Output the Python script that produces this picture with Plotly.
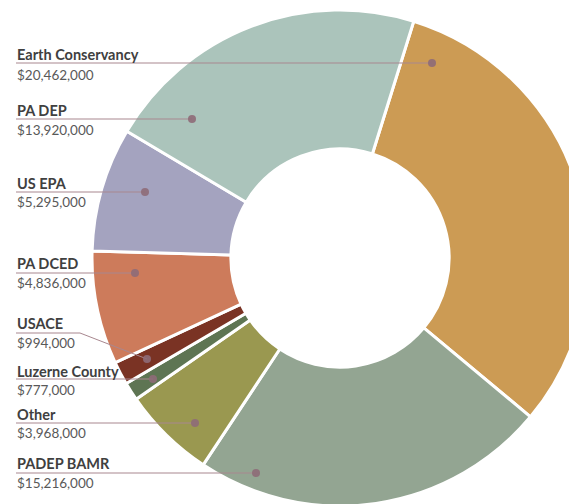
import plotly.graph_objects as go

# ---- data (clockwise order starting at the top-right) ----
categories = ["Earth Conservancy", "PADEP BAMR", "Other", "Luzerne County",
              "USACE", "PA DCED", "US EPA", "PA DEP"]
values = [20462000, 15216000, 3968000, 777000, 994000, 4836000, 5295000, 13920000]
value_labels = ["$20,462,000", "$15,216,000", "$3,968,000", "$777,000",
                "$994,000", "$4,836,000", "$5,295,000", "$13,920,000"]

# ---- styles ----
colors = ["#CC9B54", "#93A592", "#9A9850", "#5E7553",
          "#7A3324", "#CD7B5B", "#A4A3BF", "#ABC4BB"]

# ---- label layout (pixel positions in the window, top-left origin) ----
# per category: (name_y, line_y, value_y, dot_x, dot_y, elbow_x)
label_layout = {
    "Earth Conservancy": (54, 63, 75, 432, 63, None),
    "PA DEP": (110, 119, 130, 192, 119, None),
    "US EPA": (183, 192, 202, 145, 192, None),
    "PA DCED": (263, 273, 283, 135, 273, None),
    "USACE": (323, 333, 343, 147, 359, 80),
    "Luzerne County": (371, 379, 390, 153, 379, None),
    "Other": (414, 423, 433, 195, 423, None),
    "PADEP BAMR": (463, 473, 483, 256, 473, None),
}

OFF = 8  # page body margin
W, H = 580, 508
CX, CY, R = 340 - OFF, 258 - OFF, 248
TEXT_X = 16 - OFF

fig = go.Figure()
fig.add_trace(go.Pie(
    labels=categories, values=values, sort=False, direction="clockwise",
    rotation=17.3, hole=0.44, textinfo="none", hoverinfo="label+value",
    marker=dict(colors=colors, line=dict(color="white", width=3)),
    domain=dict(x=[(CX - R) / W, (CX + R) / W],
                y=[max(0, 1 - (CY + R) / H), min(1, 1 - (CY - R) / H)]),
    showlegend=False,
))

# invisible pixel-space axes for the leader lines
fig.add_trace(go.Scatter(x=[0, W], y=[0, H], mode="markers",
                         marker=dict(opacity=0), hoverinfo="skip", showlegend=False))

line_col = "#A8878F"
dot_col = "#8E6B78"
shapes, annotations = [], []
for cat, val in zip(categories, value_labels):
    ny, ly, vy, dx, dy, ex = label_layout[cat]
    ny, ly, vy, dx, dy = ny - OFF, ly - OFF, vy - OFF, dx - OFF, dy - OFF
    if ex is None:
        shapes.append(dict(type="line", xref="x", yref="y", x0=TEXT_X, y0=ly, x1=dx, y1=dy,
                           line=dict(color=line_col, width=1)))
    else:
        ex = ex - OFF
        shapes.append(dict(type="path", xref="x", yref="y",
                           path=f"M {TEXT_X},{ly} L {ex},{ly} L {dx},{dy}",
                           line=dict(color=line_col, width=1)))
    shapes.append(dict(type="circle", xref="x", yref="y", x0=dx - 4, x1=dx + 4,
                       y0=dy - 4, y1=dy + 4, fillcolor=dot_col,
                       line=dict(width=0), opacity=0.9))
    annotations.append(dict(x=TEXT_X - 1, y=ny, xref="x", yref="y", text=f"<b>{cat}</b>",
                            showarrow=False, xanchor="left", yanchor="middle",
                            font=dict(family="Lato", size=14.5, color="#404040")))
    annotations.append(dict(x=TEXT_X - 1, y=vy, xref="x", yref="y", text=val,
                            showarrow=False, xanchor="left", yanchor="middle",
                            font=dict(family="Lato", size=13.5, color="#595959")))

fig.update_layout(
    width=W, height=H, margin=dict(l=0, r=0, t=0, b=0),
    paper_bgcolor="white", plot_bgcolor="rgba(0,0,0,0)",
    xaxis=dict(range=[0, W], visible=False, fixedrange=True),
    yaxis=dict(range=[H, 0], visible=False, fixedrange=True),
    shapes=shapes, annotations=annotations,
)

fig.write_html("out.html")
